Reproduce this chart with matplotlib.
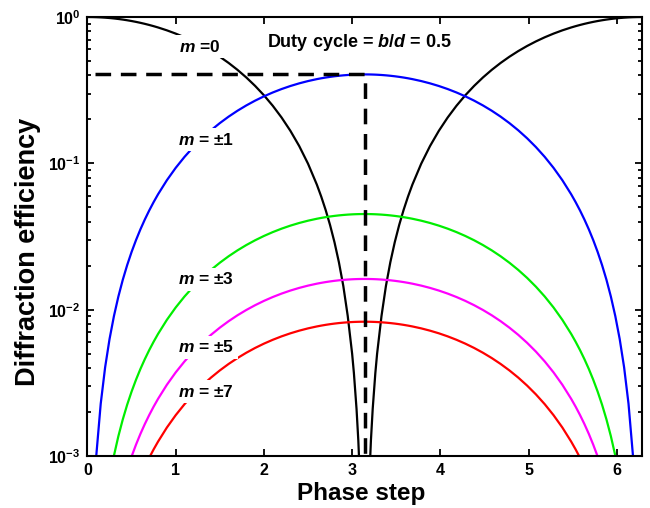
import matplotlib
matplotlib.use("Agg")
import matplotlib.pyplot as plt
from matplotlib.ticker import LogLocator, NullFormatter, FixedLocator

plt.rcParams['font.family'] = ['Liberation Sans', 'DejaVu Sans']
plt.rcParams['font.weight'] = 'bold'
plt.rcParams['mathtext.fontset'] = 'custom'
plt.rcParams['mathtext.rm'] = 'Liberation Sans:bold'
plt.rcParams['mathtext.bf'] = 'Liberation Sans:bold'
plt.rcParams['mathtext.it'] = 'Liberation Sans:italic:bold'
plt.rcParams['mathtext.default'] = 'regular'

# Phase step values
phase = [0.0, 0.05, 0.1, 0.15, 0.2, 0.25, 0.3, 0.35, 0.4, 0.45, 0.5, 0.55, 0.6, 0.65,
         0.7, 0.75, 0.8, 0.9, 1.0, 1.1, 1.2, 1.3, 1.4, 1.5, 1.6, 1.7, 1.8, 1.9, 2.0,
         2.1, 2.2, 2.3, 2.4, 2.5, 2.6, 2.65, 2.7, 2.75, 2.8, 2.85, 2.9, 2.95, 3.0,
         3.02, 3.05, 3.07, 3.09, 3.1, 3.1416,
         3.1832, 3.1932, 3.2132, 3.2332, 3.2632, 3.2832, 3.3332, 3.3832, 3.4332,
         3.4832, 3.5332, 3.5832, 3.6332, 3.6832, 3.7832, 3.8832, 3.9832, 4.0832,
         4.1832, 4.2832, 4.3832, 4.4832, 4.5832, 4.6832, 4.7832, 4.8832, 4.9832,
         5.0832, 5.1832, 5.2832, 5.3832, 5.4832, 5.5332, 5.5832, 5.6332, 5.6832,
         5.7332, 5.7832, 5.8332, 5.8832, 5.9332, 5.9832, 6.0332, 6.0832, 6.1332,
         6.1832, 6.2332, 6.2832]

eff_m0 = [1.0, 0.999375, 0.997502, 0.994386, 0.990033, 0.984456, 0.977668, 0.969686,
          0.960530, 0.950224, 0.938791, 0.926263, 0.912668, 0.898042, 0.882421,
          0.865844, 0.848353, 0.810805, 0.770151, 0.726798, 0.681179, 0.633749,
          0.584984, 0.535369, 0.485400, 0.435578, 0.386399, 0.338355, 0.291927,
          0.247577, 0.205749, 0.166862, 0.131303, 0.099428, 0.071556, 0.059208,
          0.047964, 0.037849, 0.028889, 0.021106, 0.014521, 0.009073, 0.005004,
          0.003691, 0.002096, 0.001281, 0.000665, 0.000432, 0.0,
          0.000432, 0.000665, 0.001281, 0.002096, 0.003691, 0.005004, 0.009073,
          0.014521, 0.021106, 0.028889, 0.037849, 0.047964, 0.059208, 0.071556,
          0.099428, 0.131303, 0.166862, 0.205749, 0.247577, 0.291927, 0.338355,
          0.386399, 0.435578, 0.485400, 0.535369, 0.584984, 0.633749, 0.681179,
          0.726798, 0.770151, 0.810805, 0.848353, 0.865844, 0.882421, 0.898042,
          0.912668, 0.926263, 0.938791, 0.950224, 0.960530, 0.969686, 0.977668,
          0.984456, 0.990033, 0.994386, 0.997502, 0.999375, 1.0]

eff_m1 = [0.0, 0.000253, 0.001012, 0.002276, 0.004039, 0.006300, 0.009051, 0.012286,
          0.015997, 0.020173, 0.024807, 0.029885, 0.035394, 0.041322, 0.047653,
          0.054371, 0.061460, 0.076678, 0.093154, 0.110725, 0.129213, 0.148436,
          0.168200, 0.188308, 0.208560, 0.228752, 0.248684, 0.268155, 0.286971,
          0.304946, 0.321898, 0.337658, 0.352070, 0.364989, 0.376285, 0.381289,
          0.385846, 0.389945, 0.393577, 0.396731, 0.399400, 0.401608, 0.403257,
          0.403790, 0.404436, 0.404766, 0.405016, 0.405110, 0.405285,
          0.405110, 0.405016, 0.404766, 0.404436, 0.403790, 0.403257, 0.401608,
          0.399400, 0.396731, 0.393577, 0.389945, 0.385846, 0.381289, 0.376285,
          0.364989, 0.352070, 0.337658, 0.321898, 0.304946, 0.286971, 0.268155,
          0.248684, 0.228752, 0.208560, 0.188308, 0.168200, 0.148436, 0.129213,
          0.110725, 0.093154, 0.076678, 0.061460, 0.054371, 0.047653, 0.041322,
          0.035394, 0.029885, 0.024807, 0.020173, 0.015997, 0.012286, 0.009051,
          0.006300, 0.004039, 0.002276, 0.001012, 0.000253, 0.0]

eff_m3 = [0.0, 0.0000281, 0.0001125, 0.000253, 0.000449, 0.000700, 0.001006, 0.001365,
          0.001777, 0.002242, 0.002756, 0.003320, 0.003933, 0.004591, 0.005295,
          0.006041, 0.006829, 0.008520, 0.010351, 0.012303, 0.014357, 0.016493,
          0.018689, 0.020923, 0.023174, 0.025417, 0.027632, 0.029795, 0.031886,
          0.033883, 0.035767, 0.037518, 0.039119, 0.040555, 0.041810, 0.042366,
          0.042872, 0.043327, 0.043731, 0.044082, 0.044378, 0.044623, 0.044807,
          0.044866, 0.044938, 0.044974, 0.045002, 0.045013, 0.045032,
          0.045013, 0.045002, 0.044974, 0.044938, 0.044866, 0.044807, 0.044623,
          0.044378, 0.044082, 0.043731, 0.043327, 0.042872, 0.042366, 0.041810,
          0.040555, 0.039119, 0.037518, 0.035767, 0.033883, 0.031886, 0.029795,
          0.027632, 0.025417, 0.023174, 0.020923, 0.018689, 0.016493, 0.014357,
          0.012303, 0.010351, 0.008520, 0.006829, 0.006041, 0.005295, 0.004591,
          0.003933, 0.003320, 0.002756, 0.002242, 0.001777, 0.001365, 0.001006,
          0.000700, 0.000449, 0.000253, 0.0001125, 0.0000281, 0.0]

eff_m5 = [0.0, 0.0000101, 0.0000405, 0.0000910, 0.000162, 0.000252, 0.000362, 0.000491,
          0.000640, 0.000807, 0.000992, 0.001195, 0.001416, 0.001653, 0.001906,
          0.002175, 0.002458, 0.003067, 0.003726, 0.004429, 0.005168, 0.005937,
          0.006728, 0.007532, 0.008342, 0.009150, 0.009947, 0.010726, 0.011479,
          0.012198, 0.012875, 0.013506, 0.014082, 0.014599, 0.015051, 0.015251,
          0.015433, 0.015597, 0.015743, 0.015869, 0.015975, 0.016064, 0.016130,
          0.016151, 0.016177, 0.016190, 0.016200, 0.016204, 0.016211,
          0.016204, 0.016200, 0.016190, 0.016177, 0.016151, 0.016130, 0.016064,
          0.015975, 0.015869, 0.015743, 0.015597, 0.015433, 0.015251, 0.015051,
          0.014599, 0.014082, 0.013506, 0.012875, 0.012198, 0.011479, 0.010726,
          0.009947, 0.009150, 0.008342, 0.007532, 0.006728, 0.005937, 0.005168,
          0.004429, 0.003726, 0.003067, 0.002458, 0.002175, 0.001906, 0.001653,
          0.001416, 0.001195, 0.000992, 0.000807, 0.000640, 0.000491, 0.000362,
          0.000252, 0.000162, 0.0000910, 0.0000405, 0.0000101, 0.0]

eff_m7 = [0.0, 0.0000052, 0.0000207, 0.0000464, 0.0000824, 0.0001286, 0.000185, 0.000251,
          0.000326, 0.000412, 0.000506, 0.000610, 0.000722, 0.000843, 0.000973,
          0.001110, 0.001254, 0.001565, 0.001901, 0.002260, 0.002637, 0.003029,
          0.003433, 0.003843, 0.004256, 0.004668, 0.005075, 0.005473, 0.005857,
          0.006223, 0.006569, 0.006891, 0.007185, 0.007449, 0.007679, 0.007781,
          0.007874, 0.007958, 0.008032, 0.008097, 0.008151, 0.008196, 0.008230,
          0.008241, 0.008254, 0.008261, 0.008266, 0.008268, 0.008271,
          0.008268, 0.008266, 0.008261, 0.008254, 0.008241, 0.008230, 0.008196,
          0.008151, 0.008097, 0.008032, 0.007958, 0.007874, 0.007781, 0.007679,
          0.007449, 0.007185, 0.006891, 0.006569, 0.006223, 0.005857, 0.005473,
          0.005075, 0.004668, 0.004256, 0.003843, 0.003433, 0.003029, 0.002637,
          0.002260, 0.001901, 0.001565, 0.001254, 0.001110, 0.000973, 0.000843,
          0.000722, 0.000610, 0.000506, 0.000412, 0.000326, 0.000251, 0.000185,
          0.0001286, 0.0000824, 0.0000464, 0.0000207, 0.0000052, 0.0]

series_labels = ['$\\mathit{m}$ =0', '$\\mathit{m}$ = ±1', '$\\mathit{m}$ = ±3',
                 '$\\mathit{m}$ = ±5', '$\\mathit{m}$ = ±7']
series_colors = ['black', '#0000ff', '#00ee00', '#ff00ff', '#ff0000']

guide_x = [0.09, 3.1416, 3.1416]
guide_y = [0.405, 0.405, 0.001]

x_ticks = [0, 1, 2, 3, 4, 5, 6]

fig = plt.figure(figsize=(6.5, 5.08), dpi=100)
ax = fig.add_axes([0.1346, 0.1024, 0.8527, 0.8641])
ax.set_yscale('log', nonpositive='mask')

all_series = [eff_m0, eff_m1, eff_m3, eff_m5, eff_m7]
for ys, c in zip(all_series, series_colors):
    ax.plot(phase, ys, color=c, lw=1.6, zorder=2)

ax.plot(guide_x, guide_y, color='black', lw=2.5, dashes=(4.5, 2.8), zorder=4)

ax.set_xlim(0, 6.2832)
ax.set_ylim(1e-3, 1)
ax.xaxis.set_major_locator(FixedLocator(x_ticks))
ax.yaxis.set_major_locator(LogLocator(base=10, numticks=10))
ax.yaxis.set_minor_locator(LogLocator(base=10, subs=range(2, 10), numticks=20))
ax.yaxis.set_minor_formatter(NullFormatter())

ax.tick_params(which='both', direction='in', top=True, right=True,
               labelsize=11.5, width=1.3, pad=5)
ax.tick_params(which='major', length=5)
ax.tick_params(which='minor', length=3)
for lbl in ax.get_xticklabels() + ax.get_yticklabels():
    lbl.set_fontweight('bold')
for sp in ax.spines.values():
    sp.set_linewidth(1.5)

fig.text(0.555, 0.0295, 'Phase step', fontsize=17.5, fontweight='bold',
         ha='center', va='center')
fig.text(0.043, 0.504, 'Diffraction efficiency', fontsize=19.5, fontweight='bold',
         ha='center', va='center', rotation=90)

label_pos = [(0.203, 0.932), (0.214, 0.72), (0.214, 0.403), (0.214, 0.248), (0.214, 0.146)]
for txt, (px, py) in zip(series_labels, label_pos):
    ax.text(px, py, txt, transform=ax.transAxes, ha='center', va='center',
            fontsize=12.5, fontweight='bold', zorder=5,
            bbox=dict(facecolor='white', edgecolor='none', pad=2.5))

ax.text(0.49, 0.941, 'Duty cycle = $\\mathit{b/d}$ = 0.5', transform=ax.transAxes,
        ha='center', va='center', fontsize=13, fontweight='bold', zorder=5)

fig.savefig('out.png', dpi=100)
